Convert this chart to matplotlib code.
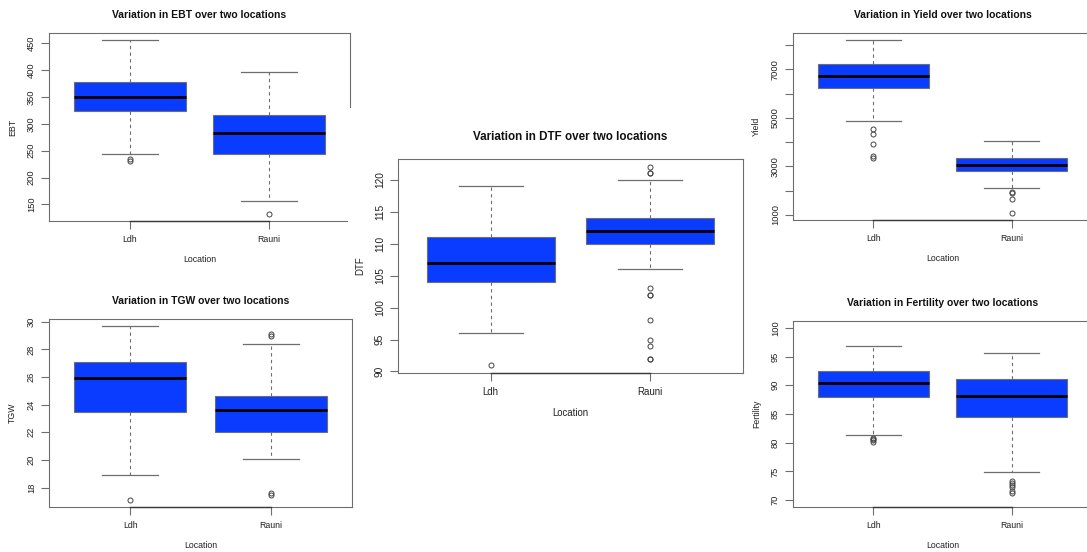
import matplotlib
matplotlib.use("Agg")
import matplotlib.pyplot as plt
from matplotlib.patches import Rectangle

plt.rcParams['font.family'] = ['Liberation Sans', 'DejaVu Sans']

W, H = 1087, 552
fig = plt.figure(figsize=(W / 100, H / 100), dpi=100)

locations = ['Ldh', 'Rauni']

# box summaries: whisker low, q1, median, q3, whisker high
ebt_box = [[244, 324, 350, 377, 456], [157, 244, 283, 317, 397]]
ebt_out = [[234, 231], [132]]

tgw_box = [[18.9, 23.45, 25.95, 27.07, 29.7], [20.1, 22.0, 23.6, 24.64, 28.42]]
tgw_out = [[17.1], [29.1, 28.95, 17.62, 17.47]]

dtf_box = [[96, 104, 107, 111, 119], [106, 110, 112, 114, 120]]
dtf_out = [[91], [122, 121, 121, 103, 102, 102, 98, 95, 94, 92, 92]]

yield_box = [[4866, 6247, 6707, 7223, 8214], [2090, 2801, 3038, 3359, 4043]]
yield_out = [[4531, 4321, 3903, 3415, 3345], [1937, 1895, 1658, 1070]]

fert_box = [[81.4, 88.0, 90.33, 92.55, 96.9], [74.96, 84.5, 88.18, 91.1, 95.7]]
fert_out = [[80.9, 80.7, 80.5, 80.2], [73.3, 73.0, 72.7, 72.3, 71.6, 71.2]]

ebt_ticks = [150, 200, 250, 300, 350, 400, 450]
tgw_ticks = [18, 20, 22, 24, 26, 28, 30]
dtf_ticks = [90, 95, 100, 105, 110, 115, 120]
yield_ticks = [1000, 2000, 3000, 4000, 5000, 6000, 7000, 8000]
yield_labels = ['1000', '', '3000', '', '5000', '', '7000', '']
fert_ticks = [70, 75, 80, 85, 90, 95, 100]

FILL = '#0a3cff'
LINE = '#6e6e6e'


def px_rect(left, top, right, bottom):
    # pixel box -> figure fraction
    return [left / W, 1 - bottom / H, (right - left) / W, (bottom - top) / H]


def panel(rect, boxes, outs, name, ticks, ticklabels=None, ylim=None,
          fs=6.3, tfs=7.5, tpad=11, zorder=0):
    ax = fig.add_axes(rect, zorder=zorder)
    stats = []
    for b, o in zip(boxes, outs):
        stats.append(dict(whislo=b[0], q1=b[1], med=b[2], q3=b[3], whishi=b[4], fliers=o))
    ax.bxp(stats, positions=[1, 2], widths=0.8, patch_artist=True,
           boxprops=dict(facecolor=FILL, edgecolor=LINE, linewidth=0.8),
           medianprops=dict(color='black', linewidth=2.0),
           whiskerprops=dict(color=LINE, linewidth=0.8, linestyle=(0, (3, 3))),
           capprops=dict(color=LINE, linewidth=0.9),
           capwidths=0.4,
           flierprops=dict(marker='o', markersize=3.6, markerfacecolor='none',
                           markeredgecolor='#444444', markeredgewidth=0.7))
    if ylim is None:
        vals = [v for b in boxes for v in b] + [v for o in outs for v in o]
        ylim = (min(vals), max(vals))
    pad = 0.04 * (ylim[1] - ylim[0])
    lo, hi = ylim[0] - pad, ylim[1] + pad
    ax.set_ylim(lo, hi)
    ax.set_xlim(0.42, 2.58)
    ax.set_xticks([1, 2])
    ax.set_xticklabels(locations)
    ax.set_yticks(ticks)
    ax.set_yticklabels(ticklabels if ticklabels else [str(t) for t in ticks])
    ax.tick_params(axis='both', labelsize=fs, color=LINE, length=6, width=0.8,
                   pad=4.3, labelcolor='#222222')
    ax.tick_params(axis='y', labelrotation=90, pad=3.5, labelsize=fs + 0.4)
    for lab in ax.get_yticklabels():
        lab.set_va('center')
    for s in ax.spines.values():
        s.set_color(LINE)
        s.set_linewidth(0.8)
    # R draws the axis line between the first and last tick on top of the frame
    ax.plot([1, 2], [lo, lo], color='#3a3a3a', linewidth=1.0, clip_on=False, zorder=5)
    ax.set_title('Variation in %s over two locations' % name, fontsize=tfs,
                 fontweight='bold', pad=tpad, color='#111111')
    ax.set_xlabel('Location', fontsize=fs, labelpad=7.5, color='#222222')
    ax.set_ylabel(name, fontsize=fs, labelpad=7, color='#222222')
    return ax


panel(px_rect(49, 33, 350, 221), ebt_box, ebt_out, 'EBT', ebt_ticks)
panel(px_rect(49, 319, 352, 507), tgw_box, tgw_out, 'TGW', tgw_ticks)

# the middle plot's white background hides part of the EBT frame
fig.add_artist(Rectangle((348 / W, 1 - 300 / H), (746 - 348) / W, (300 - 108) / H,
                         transform=fig.transFigure, facecolor='white',
                         edgecolor='none', zorder=1))

panel(px_rect(398, 159, 743, 373), dtf_box, dtf_out, 'DTF', dtf_ticks,
      fs=6.9, tfs=8.4, tpad=13.5, zorder=2)

panel(px_rect(793, 33, 1092, 220), yield_box, yield_out, 'Yield', yield_ticks,
      ticklabels=yield_labels)
panel(px_rect(793, 321, 1092, 507), fert_box, fert_out, 'Fertility', fert_ticks,
      ylim=(70, 100))

fig.savefig('out.png', dpi=100)
